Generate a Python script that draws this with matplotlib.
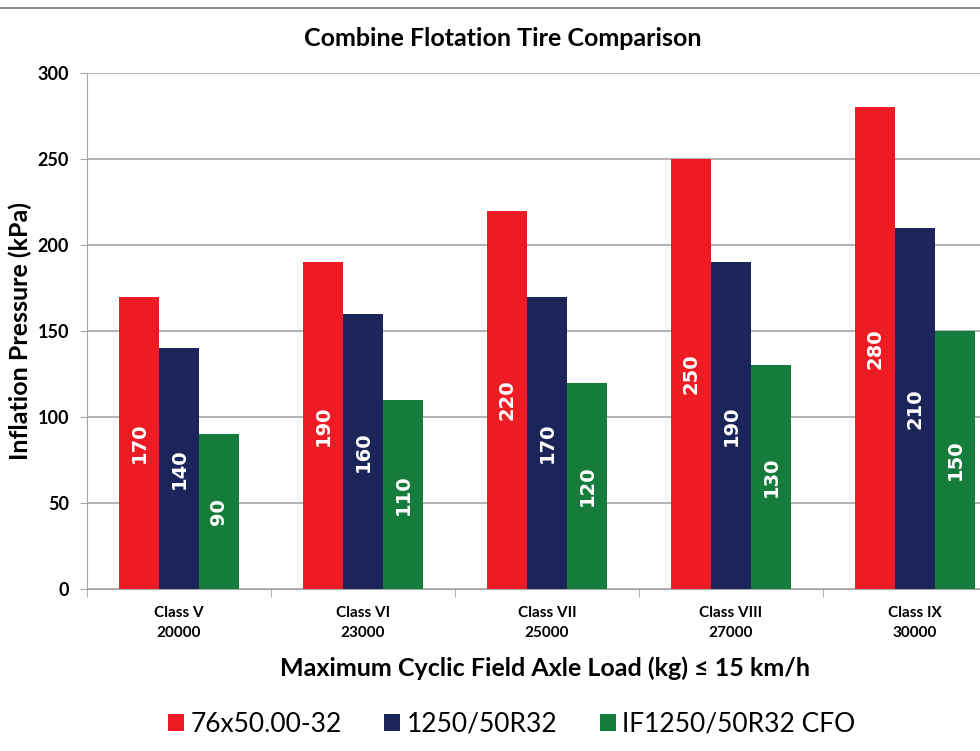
import matplotlib
matplotlib.use('Agg')
import matplotlib.pyplot as plt
import numpy as np
from matplotlib.lines import Line2D

plt.rcParams['font.family'] = ['Lato', 'DejaVu Sans']

#### DATA ####
classes = ['Class V\n20000', 'Class VI\n23000', 'Class VII\n25000', 'Class VIII\n27000', 'Class IX\n30000']
tires = ['76x50.00-32', '1250/50R32', 'IF1250/50R32 CFO']
pressure76 = [170, 190, 220, 250, 280]
pressure1250 = [140, 160, 170, 190, 210]
pressureIF = [90, 110, 120, 130, 150]
colors = ['#ED1C24', '#1C2559', '#167C3C']

dpi = 100
fig = plt.figure(figsize=(980/dpi, 751/dpi), dpi=dpi)
# axes runs past the right edge like the cropped original
ax = fig.add_axes([87/980, 162/751, 920/980, 516/751])

x = np.arange(len(classes))
w = 0.217
for i, (vals, col) in enumerate(zip([pressure76, pressure1250, pressureIF], colors)):
    bars = ax.bar(x + (i - 1) * w, vals, width=w, color=col, label=tires[i], zorder=3)
    for b, v in zip(bars, vals):
        ax.text(b.get_x() + b.get_width()/2, v/2, str(v), rotation=90, ha='center', va='center',
                color='white', fontsize=14, fontweight='bold', family=['DejaVu Sans'], zorder=4)

ax.set_xlim(-0.5, 4.5)
ax.set_ylim(0, 300)
ax.set_yticks(range(0, 301, 50))
ax.yaxis.grid(True, color='#a6a6a6', linewidth=1.2, zorder=0)
for s in ['top', 'right']:
    ax.spines[s].set_visible(False)
ax.spines['left'].set_color('#a6a6a6')
ax.spines['bottom'].set_color('#a6a6a6')
ax.tick_params(axis='y', length=5, color='#a6a6a6', labelsize=13, pad=8)
for t in ax.get_yticklabels():
    t.set_fontweight('bold')

ax.set_xticks(x)
ax.set_xticklabels(classes, fontsize=11, fontweight='bold', linespacing=1.6)
ax.tick_params(axis='x', length=0, pad=12)
ax.set_xticks(np.arange(-0.5, 5.0, 1.0), minor=True)
ax.tick_params(axis='x', which='minor', length=6, color='#a6a6a6')

ax.set_ylabel('Inflation Pressure (kPa)', fontsize=18, fontweight='bold', labelpad=4)
fig.text(545/980, 1 - 668/751, 'Maximum Cyclic Field Axle Load (kg) \u2264 15 km/h', ha='center', va='center',
         fontsize=18, fontweight='bold')
fig.text(503/980, 1 - 38/751, 'Combine Flotation Tire Comparison', ha='center', va='center',
         fontsize=18, fontweight='bold')

fig.legend(loc='center', bbox_to_anchor=(512/980, 1 - 724/751), ncol=3, frameon=False,
           fontsize=19, handlelength=0.6, handleheight=0.6, handletextpad=0.25, columnspacing=1.6)

fig.add_artist(Line2D([0, 1], [1 - 8/751, 1 - 8/751], color='#909090', linewidth=1.5))

plt.savefig('out.png', dpi=dpi)
